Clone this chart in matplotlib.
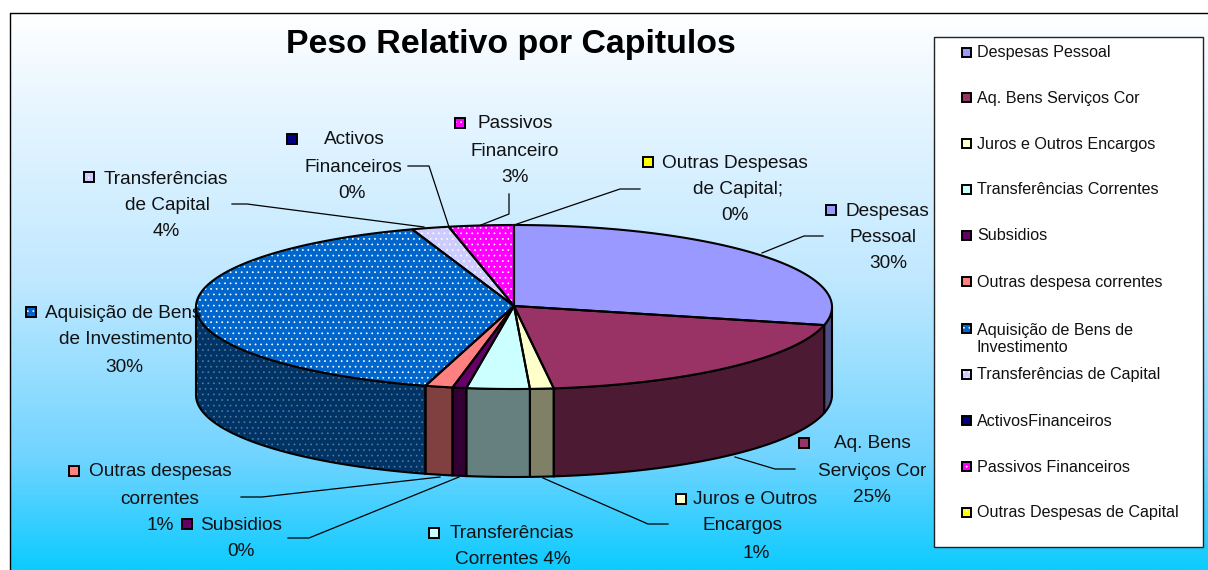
import numpy as np
import matplotlib
matplotlib.use('Agg')
import matplotlib.pyplot as plt
from matplotlib.colors import LinearSegmentedColormap, to_rgb
from matplotlib.patches import Polygon, Rectangle

plt.rcParams['font.family'] = ['Liberation Sans', 'DejaVu Sans']
plt.rcParams['hatch.linewidth'] = 0.5

# slices, clockwise from 12 o'clock
legend_names = ['Despesas Pessoal', 'Aq. Bens Serviços Cor', 'Juros e Outros Encargos',
                'Transferências Correntes', 'Subsidios', 'Outras despesa correntes',
                'Aquisição de Bens de\nInvestimento', 'Transferências de Capital',
                'ActivosFinanceiros', 'Passivos Financeiros', 'Outras Despesas de Capital']
# share of the drawn ellipse (the 3D view squeezes the front)
drawn_shares = [28.6, 19.5, 1.2, 3.2, 0.7, 1.4, 40.4, 1.9, 0.0, 3.3, 0.0]
colors = ['#9999FF', '#993366', '#FFFFCC', '#CCFFFF', '#660066', '#FF8080',
          '#0066CC', '#CCCCFF', '#000080', '#FF00FF', '#FFFF00']
dotted = [False, False, False, False, False, False, True, True, False, True, True]

label_lines = [['Despesas', 'Pessoal', '30%'],
               ['Aq. Bens', 'Serviços Cor', '25%'],
               ['Juros e Outros', 'Encargos', '1%'],
               ['Transferências', 'Correntes 4%'],
               ['Subsidios', '0%'],
               ['Outras despesas', 'correntes', '1%'],
               ['Aquisição de Bens', 'de Investimento', '30%'],
               ['Transferências', 'de Capital', '4%'],
               ['Activos', 'Financeiros', '0%'],
               ['Passivos', 'Financeiro', '3%'],
               ['Outras Despesas', 'de Capital;', '0%']]
label_centers = [[887, 883, 888], [872, 872, 872], [755, 742, 756], [512, 513], [241, 241],
                 [160, 160, 160], [123, 126, 124], [166, 167, 166], [354, 353, 352],
                 [515, 515, 515], [735, 738, 735]]
label_ys = [[211, 238, 264], [444, 471, 497], [500, 526, 553], [533, 560], [525, 551],
            [472, 499, 525], [314, 340, 367], [179, 206, 232], [140, 167, 194],
            [124, 151, 177], [164, 190, 216]]
swatch_xs = [831, 804, 681, 434, 187, 74, 31, 89, 292, 460, 648]
swatch_ys = [210, 443, 499, 533, 524, 471, 312, 177, 139, 123, 162]

leaders = [[(762, 253), (804, 236), (823, 236)],
           [(735, 457), (775, 469), (795, 469)],
           [(543, 478), (648, 524), (668, 524)],
           [(459, 477), (309, 538), (288, 538)],
           [(440, 477), (262, 497), (241, 497)],
           [(424, 227), (247, 204), (232, 204)],
           [(449, 227), (429, 166), (408, 166)],
           [(481, 225), (509, 214), (509, 194)],
           [(514, 225), (620, 189), (640, 189)]]

legend_ys = [53, 98, 144, 190, 236, 282, 339, 375, 421, 467, 513]

W, H = 1208, 570
cx, cy, rx, ry, depth = 514, 307, 318, 82, 88


def rim(t0, t1):
    t = np.radians(np.linspace(t0, t1, max(int(abs(t1 - t0) * 2), 2)))
    return np.column_stack([cx + rx * np.sin(t), cy - ry * np.cos(t)])


def dots(ax, xy, face, dot, zorder):
    ax.add_patch(Polygon(xy, closed=True, facecolor=face, edgecolor=dot, hatch='...', lw=0, zorder=zorder))


fig = plt.figure(figsize=(W / 100, H / 100), dpi=100)
ax = fig.add_axes([0, 0, 1, 1])

# background gradient
cmap = LinearSegmentedColormap.from_list('bg', [(0, '#FFFFFF'), (0.16, '#E8F6FF'), (0.48, '#C0E8FF'),
                                                (0.8, '#70D4FF'), (1, '#0CCBFF')])
ax.imshow(np.linspace(0, 1, 256).reshape(-1, 1), cmap=cmap, extent=(10, W, H, 13), aspect='auto', zorder=0)
ax.plot([9.5, 9.5, W], [H, 13, 13], color='black', lw=1.0, zorder=1)

# side faces, then top faces
edges = np.concatenate([[0], np.cumsum(drawn_shares)]) * 3.6
edges = edges / edges[-1] * 360
for i in range(len(colors)):
    t0, t1 = max(edges[i], 90), min(edges[i + 1], 270)
    if t1 > t0:
        top = rim(t0, t1)
        side = np.vstack([top, top[::-1] + [0, depth]])
        dark = tuple(c * 0.5 for c in to_rgb(colors[i]))
        if dotted[i]:
            dots(ax, side, dark, '#5A7A96', 2)
        else:
            ax.add_patch(Polygon(side, closed=True, facecolor=dark, lw=0, zorder=2))
        ax.add_patch(Polygon(side, closed=True, fill=False, edgecolor='black', lw=1.5, zorder=3))
for i in range(len(colors)):
    if drawn_shares[i] == 0:
        continue
    wedge = np.vstack([[cx, cy - 1], rim(edges[i], edges[i + 1])])
    if dotted[i]:
        dots(ax, wedge, colors[i], 'white', 4)
    else:
        ax.add_patch(Polygon(wedge, closed=True, facecolor=colors[i], lw=0, zorder=4))
    ax.add_patch(Polygon(wedge, closed=True, fill=False, edgecolor='black', lw=1.5, zorder=5))

for pts in leaders:
    xs, ys = zip(*pts)
    ax.plot(xs, ys, color='black', lw=0.9, zorder=6)


def swatch(x, y, size, i, zorder):
    r = (x - size / 2, y - size / 2)
    if dotted[i]:
        ax.add_patch(Rectangle(r, size, size, facecolor=colors[i], edgecolor='white', hatch='...', lw=0, zorder=zorder))
        ax.add_patch(Rectangle(r, size, size, fill=False, edgecolor='black', lw=1.4, zorder=zorder))
    else:
        ax.add_patch(Rectangle(r, size, size, facecolor=colors[i], edgecolor='black', lw=1.4, zorder=zorder))


for i in range(len(colors)):
    swatch(swatch_xs[i], swatch_ys[i], 10, i, 7)
    for line, x, y in zip(label_lines[i], label_centers[i], label_ys[i]):
        ax.text(x, y, line, ha='center', va='center', fontsize=13.7, color='#111111', zorder=8)

ax.text(511, 44, 'Peso Relativo por Capitulos', ha='center', va='center', fontsize=24.4, fontweight='bold', zorder=8)

# legend box
ax.add_patch(Rectangle((934, 37), 269, 510, facecolor='white', edgecolor='#222222', lw=1.0, zorder=9))
for i, name in enumerate(legend_names):
    y = legend_ys[i]
    if '\n' in name:
        swatch(966, y - 11, 9, i, 10)
    else:
        swatch(966, y - 1, 9, i, 10)
    ax.text(977, y, name, ha='left', va='center', fontsize=11.65, color='#111111', linespacing=1.1, zorder=10)

ax.set_xlim(0, W)
ax.set_ylim(H, 0)
ax.axis('off')
fig.savefig('out.png', dpi=100, facecolor='white')
